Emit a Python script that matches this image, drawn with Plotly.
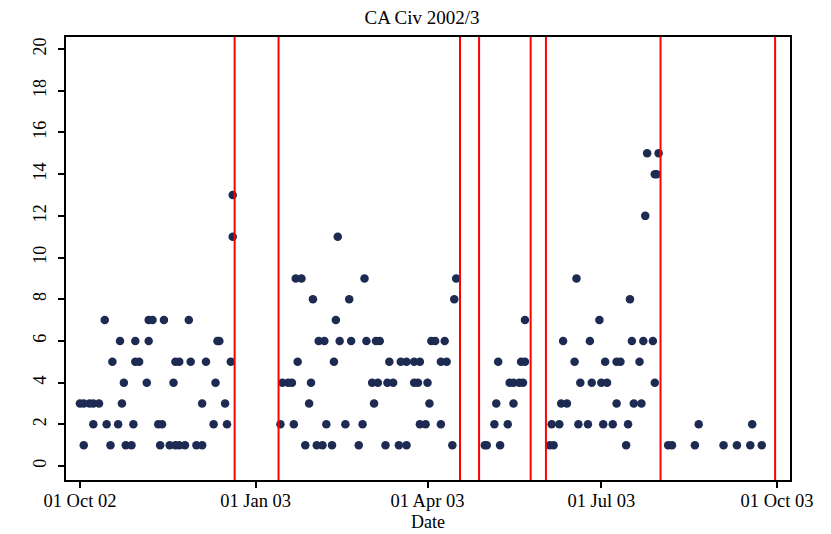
import plotly.graph_objects as go

# ---- Data ----
term1_dates = ["2002-10-01", "2002-10-03", "2002-10-03", "2002-10-06", "2002-10-08", "2002-10-08",
               "2002-10-11", "2002-10-14", "2002-10-15", "2002-10-17", "2002-10-18", "2002-10-21",
               "2002-10-22", "2002-10-23", "2002-10-24", "2002-10-25", "2002-10-28", "2002-10-29",
               "2002-10-30", "2002-10-30", "2002-11-01", "2002-11-05", "2002-11-06", "2002-11-06",
               "2002-11-08", "2002-11-11", "2002-11-12", "2002-11-13", "2002-11-14", "2002-11-17",
               "2002-11-19", "2002-11-20", "2002-11-20", "2002-11-22", "2002-11-22", "2002-11-25",
               "2002-11-27", "2002-11-28", "2002-12-01", "2002-12-04", "2002-12-04", "2002-12-06",
               "2002-12-10", "2002-12-11", "2002-12-12", "2002-12-13", "2002-12-16", "2002-12-17",
               "2002-12-19", "2002-12-20", "2002-12-20"]
term1_counts = [3, 3, 1, 3, 3, 2, 3, 7, 2, 1,
                5, 2, 6, 3, 4, 1, 1, 2, 5, 6,
                5, 4, 6, 7, 7, 2, 1, 2, 7, 1,
                4, 1, 5, 1, 5, 1, 7, 5, 1, 1,
                3, 5, 2, 4, 6, 6, 3, 2, 5, 11,
                13]

term2_dates = ["2003-01-14", "2003-01-15", "2003-01-18", "2003-01-20", "2003-01-21", "2003-01-22",
               "2003-01-23", "2003-01-25", "2003-01-27", "2003-01-29", "2003-01-30", "2003-01-31",
               "2003-02-02", "2003-02-03", "2003-02-05", "2003-02-06", "2003-02-07", "2003-02-10",
               "2003-02-11", "2003-02-12", "2003-02-13", "2003-02-14", "2003-02-17", "2003-02-19",
               "2003-02-20", "2003-02-24", "2003-02-26", "2003-02-27", "2003-02-28", "2003-03-03",
               "2003-03-04", "2003-03-05", "2003-03-06", "2003-03-07", "2003-03-10", "2003-03-11",
               "2003-03-12", "2003-03-14", "2003-03-17", "2003-03-18", "2003-03-21", "2003-03-21",
               "2003-03-25", "2003-03-25", "2003-03-27", "2003-03-28", "2003-03-28", "2003-03-31",
               "2003-04-01", "2003-04-02", "2003-04-03", "2003-04-05", "2003-04-08", "2003-04-08",
               "2003-04-10", "2003-04-11", "2003-04-14", "2003-04-15", "2003-04-16"]
term2_counts = [2, 4, 4, 4, 2, 9,
                5, 9, 1, 3, 4, 8,
                1, 6, 1, 6, 2, 1,
                5, 7, 11, 6, 2, 8,
                6, 1, 2, 9, 6, 4,
                3, 6, 4, 6, 1, 4,
                5, 4, 1, 5, 1, 5,
                4, 5, 4, 2, 5, 2,
                4, 3, 6, 6, 2, 5,
                6, 5, 1, 8, 9]

term3_dates = ["2003-05-01", "2003-05-02", "2003-05-06", "2003-05-07", "2003-05-08", "2003-05-09",
               "2003-05-13", "2003-05-14", "2003-05-16", "2003-05-16", "2003-05-19", "2003-05-20",
               "2003-05-21", "2003-05-22", "2003-05-22"]
term3_counts = [1, 1, 2, 3, 5, 1,
                2, 4, 3, 4, 4, 5,
                4, 5, 7]

term4_dates = ["2003-06-04", "2003-06-05", "2003-06-06", "2003-06-09", "2003-06-10", "2003-06-11",
               "2003-06-13", "2003-06-17", "2003-06-18", "2003-06-19", "2003-06-20", "2003-06-24",
               "2003-06-25", "2003-06-26", "2003-06-30", "2003-07-01", "2003-07-02", "2003-07-03",
               "2003-07-04", "2003-07-07", "2003-07-09", "2003-07-09", "2003-07-11", "2003-07-14",
               "2003-07-15", "2003-07-16", "2003-07-17", "2003-07-18", "2003-07-21", "2003-07-22",
               "2003-07-23", "2003-07-24", "2003-07-25", "2003-07-28", "2003-07-29", "2003-07-29",
               "2003-07-30", "2003-07-31"]
term4_counts = [1, 2, 1, 2, 3, 6,
                3, 5, 9, 2, 4, 2,
                6, 4, 7, 4, 2, 5,
                4, 2, 3, 5, 5, 1,
                2, 8, 6, 3, 5, 3,
                6, 12, 15, 6, 4, 14,
                14, 15]

vacation_dates = ["2003-08-05", "2003-08-07", "2003-08-19", "2003-08-21", "2003-09-03",
                  "2003-09-10", "2003-09-17", "2003-09-18", "2003-09-23"]
vacation_counts = [1, 1, 1, 2, 1, 1, 1, 2, 1]

term_boundaries = ["2002-12-21", "2003-01-13", "2003-04-18", "2003-04-28",
                   "2003-05-25", "2003-06-02", "2003-08-01", "2003-09-30"]

x_tick_values = ["2002-10-01", "2003-01-01", "2003-04-01", "2003-07-01", "2003-10-01"]
x_tick_labels = ["01 Oct 02", "01 Jan 03", "01 Apr 03", "01 Jul 03", "01 Oct 03"]
y_tick_values = [0, 2, 4, 6, 8, 10, 12, 14, 16, 18, 20]

# ---- Figure ----
all_dates = term1_dates + term2_dates + term3_dates + term4_dates + vacation_dates
all_counts = term1_counts + term2_counts + term3_counts + term4_counts + vacation_counts

FONT = "Liberation Serif"
# the page body has an 8px default margin, so the figure is sized to fit inside it
W, H = 823, 526
fig = go.Figure()
fig.add_trace(go.Scatter(
    x=all_dates, y=all_counts, mode="markers",
    marker=dict(size=8.5, color="#1d2b52", line=dict(width=0)),
    hoverinfo="x+y",
))

for d in term_boundaries:
    fig.add_shape(type="line", xref="x", yref="paper", x0=d, x1=d, y0=0, y1=1,
                  line=dict(color="#ff0000", width=2), layer="above")

fig.add_annotation(text="Date", xref="paper", yref="paper", x=0.5, y=-42 / 443,
                   xanchor="center", yanchor="middle", showarrow=False,
                   font=dict(family=FONT, size=18, color="black"))

fig.update_layout(
    width=W, height=H,
    margin=dict(l=58, r=41, t=29, b=54, autoexpand=False),
    paper_bgcolor="white", plot_bgcolor="white",
    font=dict(family=FONT, size=18, color="black"),
    showlegend=False,
    title=dict(text="CA Civ 2002/3", x=414 / W, xref="container", xanchor="center",
               y=1 - 9.5 / H, yref="container", yanchor="middle",
               font=dict(family=FONT, size=19, color="black")),
)
fig.update_xaxes(
    type="date", range=["2002-09-23 17:00", "2003-10-07 19:00"],
    tickvals=x_tick_values, ticktext=x_tick_labels,
    ticks="outside", ticklen=6, tickwidth=1.5, tickcolor="black",
    showline=True, mirror=True, linecolor="black", linewidth=1.5,
    showgrid=False, zeroline=False, automargin=False,
    tickfont=dict(family=FONT, size=18.5),
    ticklabelstandoff=-3,
)
fig.update_yaxes(
    range=[-0.67, 20.58], tickvals=y_tick_values, tickangle=-90,
    ticks="outside", ticklen=6, tickwidth=1.5, tickcolor="black",
    showline=True, mirror=True, linecolor="black", linewidth=1.5,
    showgrid=False, zeroline=False, automargin=False,
    tickfont=dict(family=FONT, size=18),
    ticklabelstandoff=5,
)

fig.write_html("out.html")
